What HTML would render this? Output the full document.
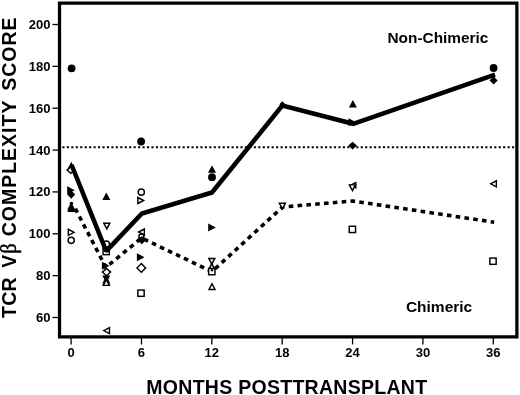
<!DOCTYPE html>
<html><head><meta charset="utf-8"><title>TCR V&#946; complexity score</title>
<style>html,body{margin:0;padding:0;background:#fff}svg{display:block}text{font-family:"Liberation Sans",sans-serif;font-weight:bold;fill:#000}</style>
</head><body>
<svg width="520" height="395" viewBox="0 0 520 395">
<rect width="520" height="395" fill="#fff"/>
<rect x="59.525" y="3.125" width="457.35" height="333.75" fill="none" stroke="#000" stroke-width="3.25"/>
<line x1="52.5" y1="317.50" x2="58.4" y2="317.50" stroke="#000" stroke-width="1.3"/>
<text x="50.5" y="321.95" font-size="13" text-anchor="end">60</text>
<line x1="52.5" y1="275.64" x2="58.4" y2="275.64" stroke="#000" stroke-width="1.3"/>
<text x="50.5" y="280.09" font-size="13" text-anchor="end">80</text>
<line x1="52.5" y1="233.79" x2="58.4" y2="233.79" stroke="#000" stroke-width="1.3"/>
<text x="50.5" y="238.24" font-size="13" text-anchor="end">100</text>
<line x1="52.5" y1="191.93" x2="58.4" y2="191.93" stroke="#000" stroke-width="1.3"/>
<text x="50.5" y="196.38" font-size="13" text-anchor="end">120</text>
<line x1="52.5" y1="150.07" x2="58.4" y2="150.07" stroke="#000" stroke-width="1.3"/>
<text x="50.5" y="154.52" font-size="13" text-anchor="end">140</text>
<line x1="52.5" y1="108.21" x2="58.4" y2="108.21" stroke="#000" stroke-width="1.3"/>
<text x="50.5" y="112.66" font-size="13" text-anchor="end">160</text>
<line x1="52.5" y1="66.36" x2="58.4" y2="66.36" stroke="#000" stroke-width="1.3"/>
<text x="50.5" y="70.81" font-size="13" text-anchor="end">180</text>
<line x1="52.5" y1="24.50" x2="58.4" y2="24.50" stroke="#000" stroke-width="1.3"/>
<text x="50.5" y="28.95" font-size="13" text-anchor="end">200</text>
<line x1="71.10" y1="338.0" x2="71.10" y2="344.5" stroke="#000" stroke-width="1.3"/>
<text x="71.10" y="356.7" font-size="13" text-anchor="middle">0</text>
<line x1="141.47" y1="338.0" x2="141.47" y2="344.5" stroke="#000" stroke-width="1.3"/>
<text x="141.47" y="356.7" font-size="13" text-anchor="middle">6</text>
<line x1="211.83" y1="338.0" x2="211.83" y2="344.5" stroke="#000" stroke-width="1.3"/>
<text x="211.83" y="356.7" font-size="13" text-anchor="middle">12</text>
<line x1="282.20" y1="338.0" x2="282.20" y2="344.5" stroke="#000" stroke-width="1.3"/>
<text x="282.20" y="356.7" font-size="13" text-anchor="middle">18</text>
<line x1="352.57" y1="338.0" x2="352.57" y2="344.5" stroke="#000" stroke-width="1.3"/>
<text x="352.57" y="356.7" font-size="13" text-anchor="middle">24</text>
<line x1="422.93" y1="338.0" x2="422.93" y2="344.5" stroke="#000" stroke-width="1.3"/>
<text x="422.93" y="356.7" font-size="13" text-anchor="middle">30</text>
<line x1="493.30" y1="338.0" x2="493.30" y2="344.5" stroke="#000" stroke-width="1.3"/>
<text x="493.30" y="356.7" font-size="13" text-anchor="middle">36</text>
<text x="286.7" y="394.0" font-size="19.5" text-anchor="middle" textLength="280.8" lengthAdjust="spacing">MONTHS POSTTRANSPLANT</text>
<text transform="translate(15.8,318.0) rotate(-90) scale(1,1.08)" font-size="19.5" letter-spacing="0.3">TCR</text>
<text transform="translate(15.8,267.7) rotate(-90) scale(1,1.08)" font-size="19.5" letter-spacing="1.0">V<tspan font-family="'Liberation Serif','DejaVu Serif',serif" font-weight="normal" font-size="20.5" stroke="#000" stroke-width="0.45">&#946;</tspan></text>
<text transform="translate(15.8,236.3) rotate(-90) scale(1,1.08)" font-size="19.5" letter-spacing="1.0">COMPLEXITY</text>
<text transform="translate(15.8,90.8) rotate(-90) scale(1,1.08)" font-size="19.5" letter-spacing="1.0">SCORE</text>
<text x="387.5" y="42.6" font-size="15.4">Non-Chimeric</text>
<text x="405.9" y="311.8" font-size="15.5">Chimeric</text>
<line x1="62.4" y1="147.3" x2="515.5" y2="147.3" stroke="#000" stroke-width="2" stroke-dasharray="2.1 2.352"/>
<polyline points="75.3,208.6 105.9,267.4 141.5,238 212,271.6 282.6,207 352.7,201 494.2,222.2" fill="none" stroke="#000" stroke-width="3.6" stroke-dasharray="4.6 4.26" stroke-linejoin="miter"/>
<circle cx="106.4" cy="244.2" r="3.1" fill="#fff" stroke="#000" stroke-width="1.45"/>
<rect x="103.05" y="248.35" width="6.3" height="6.3" fill="#fff" stroke="#000" stroke-width="1.45"/>
<polygon points="71.30,161.80 75.30,169.40 67.30,169.40" fill="#000"/>
<polygon points="70.90,166.80 74.70,170.10 70.90,173.40 67.10,170.10" fill="#fff" stroke="#000" stroke-width="1.45" stroke-linejoin="miter"/>
<polyline points="71.6,165.0 106.2,251.1 141.9,213.5 212,192.4 282.3,105.6 353.2,123.8 495,74.6" fill="none" stroke="#000" stroke-width="4.55" stroke-linejoin="miter" stroke-miterlimit="1.5"/>
<circle cx="71.6" cy="68.3" r="3.9" fill="#000"/>
<polygon points="74.80,190.30 67.20,186.30 67.20,194.30" fill="#000"/>
<polygon points="71.20,190.50 75.20,194.60 71.20,198.70 67.20,194.60" fill="#000"/>
<polygon points="71.20,202.20 75.20,209.80 67.20,209.80" fill="#000"/>
<polygon points="71.20,204.50 75.20,212.10 67.20,212.10" fill="#000"/>
<circle cx="71.4" cy="203.5" r="1.8" fill="#000"/>
<polygon points="74.05,232.30 68.35,229.30 68.35,235.30" fill="#fff" stroke="#000" stroke-width="1.45" stroke-linejoin="miter"/>
<circle cx="71.2" cy="240.3" r="3.1" fill="#fff" stroke="#000" stroke-width="1.45"/>
<polygon points="106.30,192.50 110.30,200.10 102.30,200.10" fill="#000"/>
<polygon points="106.80,228.85 109.80,223.15 103.80,223.15" fill="#fff" stroke="#000" stroke-width="1.45" stroke-linejoin="miter"/>
<polygon points="109.50,265.70 101.90,261.70 101.90,269.70" fill="#000"/>
<polygon points="106.50,268.50 110.60,272.10 106.50,275.70 102.40,272.10" fill="#fff" stroke="#000" stroke-width="1.45" stroke-linejoin="miter"/>
<polygon points="106.30,283.20 110.30,275.60 102.30,275.60" fill="#000"/>
<polygon points="106.30,275.80 110.30,283.40 102.30,283.40" fill="#000"/>
<polygon points="106.30,277.80 110.30,285.40 102.30,285.40" fill="#000"/>
<polygon points="106.30,279.65 109.30,285.35 103.30,285.35" fill="#fff" stroke="#000" stroke-width="1.45" stroke-linejoin="miter"/>
<polygon points="103.75,330.60 109.45,327.60 109.45,333.60" fill="#fff" stroke="#000" stroke-width="1.45" stroke-linejoin="miter"/>
<circle cx="141.1" cy="141.5" r="3.9" fill="#000"/>
<circle cx="141.3" cy="192.2" r="3.1" fill="#fff" stroke="#000" stroke-width="1.45"/>
<polygon points="143.55,200.50 137.85,197.50 137.85,203.50" fill="#fff" stroke="#000" stroke-width="1.45" stroke-linejoin="miter"/>
<polygon points="138.65,232.00 144.35,229.00 144.35,235.00" fill="#fff" stroke="#000" stroke-width="1.45" stroke-linejoin="miter"/>
<circle cx="141.4" cy="236.4" r="2.5" fill="#fff" stroke="#000" stroke-width="1.45"/>
<polygon points="141.80,236.00 146.20,240.10 141.80,244.20 137.40,240.10" fill="#000"/>
<polygon points="144.50,257.20 136.90,253.20 136.90,261.20" fill="#000"/>
<polygon points="141.30,263.60 145.60,267.90 141.30,272.20 137.00,267.90" fill="#fff" stroke="#000" stroke-width="1.45" stroke-linejoin="miter"/>
<rect x="137.85" y="290.05" width="6.3" height="6.3" fill="#fff" stroke="#000" stroke-width="1.45"/>
<polygon points="212.00,165.20 216.00,172.80 208.00,172.80" fill="#000"/>
<circle cx="212" cy="177.2" r="3.9" fill="#000"/>
<polygon points="215.80,227.60 208.20,223.60 208.20,231.60" fill="#000"/>
<polygon points="211.80,264.15 214.80,258.45 208.80,258.45" fill="#fff" stroke="#000" stroke-width="1.45" stroke-linejoin="miter"/>
<polygon points="211.80,263.65 214.80,269.35 208.80,269.35" fill="#fff" stroke="#000" stroke-width="1.45" stroke-linejoin="miter"/>
<rect x="208.65" y="268.45" width="6.3" height="6.3" fill="#fff" stroke="#000" stroke-width="1.45"/>
<circle cx="212" cy="270.3" r="1.2" fill="#000"/>
<polygon points="212.00,283.75 215.00,289.45 209.00,289.45" fill="#fff" stroke="#000" stroke-width="1.45" stroke-linejoin="miter"/>
<polygon points="282.30,101.30 285.30,104.30 282.30,107.30 279.30,104.30" fill="#000"/>
<polygon points="282.40,208.85 285.40,203.15 279.40,203.15" fill="#fff" stroke="#000" stroke-width="1.45" stroke-linejoin="miter"/>
<polygon points="352.90,99.90 356.90,107.50 348.90,107.50" fill="#000"/>
<polygon points="356.10,122.20 348.50,118.20 348.50,126.20" fill="#000"/>
<polygon points="352.60,141.70 356.90,145.60 352.60,149.50 348.30,145.60" fill="#000"/>
<polygon points="350.25,185.30 355.75,182.70 355.75,187.90" fill="#fff" stroke="#000" stroke-width="1.45" stroke-linejoin="miter"/>
<polygon points="352.40,190.55 355.40,184.85 349.40,184.85" fill="#fff" stroke="#000" stroke-width="1.45" stroke-linejoin="miter"/>
<rect x="349.25" y="226.25" width="6.3" height="6.3" fill="#fff" stroke="#000" stroke-width="1.45"/>
<circle cx="493.6" cy="68" r="3.9" fill="#000"/>
<polygon points="493.60,76.30 497.60,80.40 493.60,84.50 489.60,80.40" fill="#000"/>
<polygon points="490.65,183.80 496.35,180.80 496.35,186.80" fill="#fff" stroke="#000" stroke-width="1.45" stroke-linejoin="miter"/>
<rect x="489.85" y="258.05" width="6.3" height="6.3" fill="#fff" stroke="#000" stroke-width="1.45"/>
</svg></body></html>
